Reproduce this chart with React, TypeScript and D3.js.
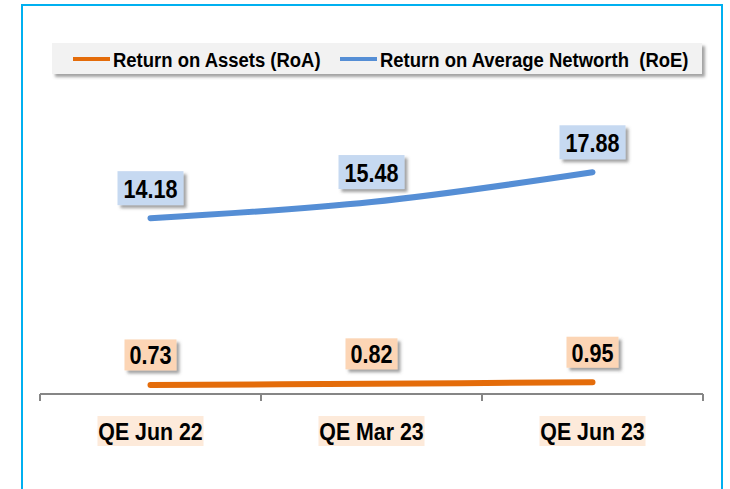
import { useRef, useEffect } from 'react';
import * as d3 from 'd3';

const categories = ['QE Jun 22', 'QE Mar 23', 'QE Jun 23'];
const roaValues = [0.73, 0.82, 0.95];
const roeValues = [14.18, 15.48, 17.88];
const seriesNames = ['Return on Assets (RoA)', 'Return on Average Networth  (RoE)'];

const W = 730;
const H = 489;
const FONT = '"Liberation Sans", Arial, sans-serif';

function App() {
  const ref = useRef<SVGSVGElement>(null);

  useEffect(() => {
    const svg = d3.select(ref.current);
    svg.selectAll('*').remove();

    const defs = svg.append('defs');
    defs.append('filter')
      .attr('id', 'shadow')
      .attr('x', '-20%').attr('y', '-20%')
      .attr('width', '150%').attr('height', '160%')
      .append('feDropShadow')
      .attr('dx', 3).attr('dy', 3)
      .attr('stdDeviation', 1.8)
      .attr('flood-color', '#555')
      .attr('flood-opacity', 0.55);

    // frame
    svg.append('rect')
      .attr('x', 22).attr('y', 5)
      .attr('width', 700).attr('height', 500)
      .attr('fill', 'white')
      .attr('stroke', '#00B0F0')
      .attr('stroke-width', 2);

    const x = d3.scaleBand<string>().domain(categories).range([40, 703]);
    const y = d3.scaleLinear().domain([0, 20]).range([394, 146]);
    const cx = (c: string) => (x(c) ?? 0) + x.bandwidth() / 2;

    // axis
    const axis = svg.append('g').attr('stroke', '#868686').attr('stroke-width', 2);
    axis.append('line')
      .attr('x1', x.range()[0]).attr('x2', x.range()[1])
      .attr('y1', y(0)).attr('y2', y(0));
    const edges = categories.map(c => x(c) ?? 0).concat([x.range()[1]]);
    axis.selectAll('line.tick')
      .data(edges)
      .join('line')
      .attr('class', 'tick')
      .attr('x1', d => d).attr('x2', d => d)
      .attr('y1', y(0)).attr('y2', y(0) + 7);

    // category labels
    const cat = svg.selectAll('g.cat')
      .data(categories)
      .join('g')
      .attr('class', 'cat');
    cat.append('rect')
      .attr('x', d => cx(d) - 53).attr('y', 416)
      .attr('width', 106).attr('height', 30)
      .attr('fill', '#FDEADA');
    cat.append('text')
      .attr('transform', d => `translate(${cx(d)},440) scale(0.89,1)`)
      .attr('text-anchor', 'middle')
      .attr('font-family', FONT)
      .attr('font-weight', 'bold')
      .attr('font-size', 24)
      .text(d => d);

    const line = d3.line<number>()
      .x((_, i) => cx(categories[i]))
      .y(d => y(d))
      .curve(d3.curveCatmullRom.alpha(0.5));

    const series = [
      { values: roeValues, color: '#558ED5', box: '#C6D9F1', bw: 66, bh: 34 },
      { values: roaValues, color: '#E46C0A', box: '#FCD5B5', bw: 52, bh: 31 },
    ];

    series.forEach(s => {
      svg.append('path')
        .attr('d', line(s.values))
        .attr('fill', 'none')
        .attr('stroke', s.color)
        .attr('stroke-width', 6)
        .attr('stroke-linecap', 'round');

      const lab = svg.append('g').selectAll('g')
        .data(s.values)
        .join('g')
        .attr('transform', (d, i) => `translate(${cx(categories[i])},${y(d) - 30})`);
      lab.append('rect')
        .attr('x', -s.bw / 2).attr('y', -s.bh / 2)
        .attr('width', s.bw).attr('height', s.bh)
        .attr('fill', s.box)
        .attr('filter', 'url(#shadow)');
      lab.append('text')
        .attr('transform', 'translate(0,9.5) scale(0.83,1)')
        .attr('text-anchor', 'middle')
        .attr('font-family', FONT)
        .attr('font-weight', 'bold')
        .attr('font-size', 26)
        .text(d => d.toFixed(2));
    });

    // legend
    const legend = svg.append('g');
    legend.append('rect')
      .attr('x', 52).attr('y', 43)
      .attr('width', 650).attr('height', 31)
      .attr('fill', '#F2F2F2')
      .attr('filter', 'url(#shadow)');
    const items = [
      { name: seriesNames[0], color: '#E46C0A', x0: 73 },
      { name: seriesNames[1], color: '#558ED5', x0: 340 },
    ];
    items.forEach(it => {
      legend.append('line')
        .attr('x1', it.x0).attr('x2', it.x0 + 37)
        .attr('y1', 59).attr('y2', 59)
        .attr('stroke', it.color)
        .attr('stroke-width', 4);
      legend.append('text')
        .attr('transform', `translate(${it.x0 + 40},67) scale(0.88,1)`)
        .attr('font-family', FONT)
        .attr('font-weight', 'bold')
        .attr('font-size', 21)
        .style('white-space', 'pre')
        .text(it.name);
    });
  }, []);

  return (
    <div style={{ position: 'absolute', left: 0, top: 0, width: W, height: H, background: 'white' }}>
      <svg ref={ref} width={W} height={H} style={{ display: 'block' }} />
    </div>
  );
}

export default App;
